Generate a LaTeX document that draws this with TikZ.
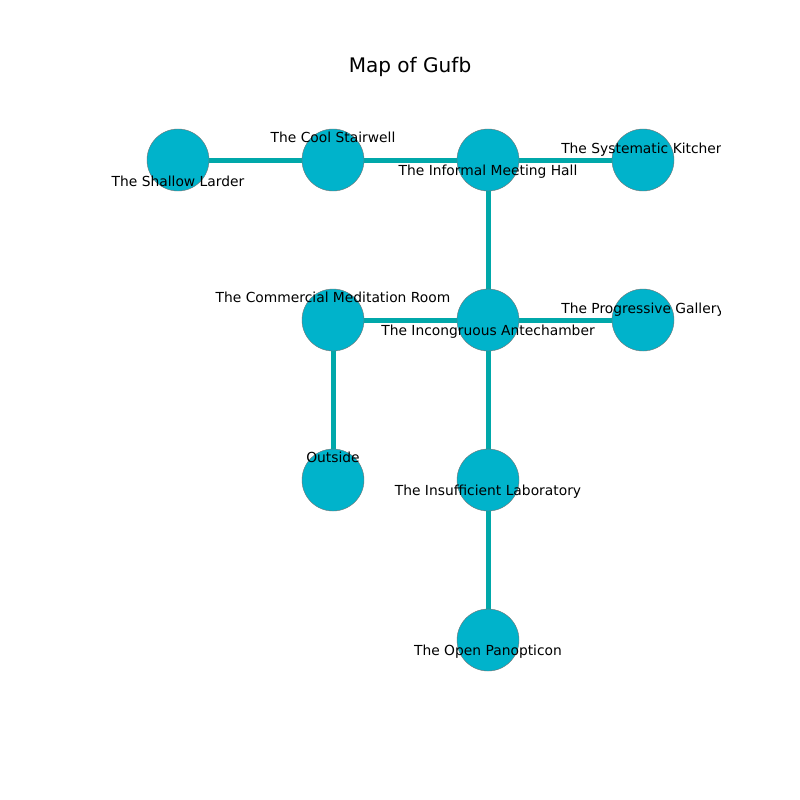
\documentclass[tikz,border=0pt]{standalone}
\usepackage{fontspec}
\setmainfont{DejaVu Sans}
\usepackage{xcolor}
\usetikzlibrary{positioning,backgrounds}
\definecolor{roomfill}{HTML}{00B3CB}
\definecolor{passagecol}{HTML}{00A8AA}

\begin{document}
\begin{tikzpicture}[
  x=0.254mm, y=-0.254mm,
  node distance=40.64mm and 39.37mm, on grid,
  room/.style={circle, draw=black!55, line width=0.3pt, fill=roomfill,
               minimum size=15.75mm, inner sep=0pt},
  passage/.style={draw=passagecol, line width=1.27mm},
  tag/.style={font=\fontsize{10}{12}\selectfont, inner sep=0pt}
]
  \useasboundingbox (0,0) rectangle (800,800);
  \node[font=\fontsize{14.5}{17}\selectfont] (title) at (410,67) {Map of Gufb};

  % rooms
  \node[room] (larder) at (178,160) {};
  \node[room] (stair) [right=of larder] {};
  \node[room] (hall) [right=of stair] {};
  \node[room] (kitchen) [right=of hall] {};
  \node[room] (ante) [below=of hall] {};
  \node[room] (medit) [left=of ante] {};
  \node[room] (gallery) [right=of ante] {};
  \node[room] (outside) [below=of medit] {};
  \node[room] (lab) [below=of ante] {};
  \node[room] (panop) [below=of lab] {};

  % passages
  \begin{pgfonlayer}{background}
    \draw[passage] (larder.center) -- (stair.center);
    \draw[passage] (stair.center) -- (hall.center);
    \draw[passage] (hall.center) -- (kitchen.center);
    \draw[passage] (hall.center) -- (ante.center);
    \draw[passage] (ante.center) -- (medit.center);
    \draw[passage] (ante.center) -- (gallery.center);
    \draw[passage] (medit.center) -- (outside.center);
    \draw[passage] (ante.center) -- (lab.center);
    \draw[passage] (lab.center) -- (panop.center);
  \end{pgfonlayer}

  % names
  \begin{scope}
    \clip (80,88) rectangle (720,712);
    \node[tag] (larderT) at ([yshift=-5.5mm]larder.center) {The Shallow Larder};
    \node[tag] (stairT) at ([yshift=5.84mm]stair.center) {The Cool Stairwell};
    \node[tag] (hallT) at ([yshift=-2.9mm]hall.center) {The Informal Meeting Hall};
    \node[tag] (kitchenT) at ([yshift=2.6mm]kitchen.center) {The Systematic Kitchen};
    \node[tag] (meditT) at ([yshift=5.84mm]medit.center) {The Commercial Meditation Room};
    \node[tag] (anteT) at ([yshift=-2.9mm]ante.center) {The Incongruous Antechamber};
    \node[tag] (galleryT) at ([yshift=2.6mm]gallery.center) {The Progressive Gallery};
    \node[tag] (outsideT) at ([yshift=5.84mm]outside.center) {Outside};
    \node[tag] (labT) at ([yshift=-2.9mm]lab.center) {The Insufficient Laboratory};
    \node[tag] (panopT) at ([yshift=-2.9mm]panop.center) {The Open Panopticon};
  \end{scope}
\end{tikzpicture}
\end{document}
